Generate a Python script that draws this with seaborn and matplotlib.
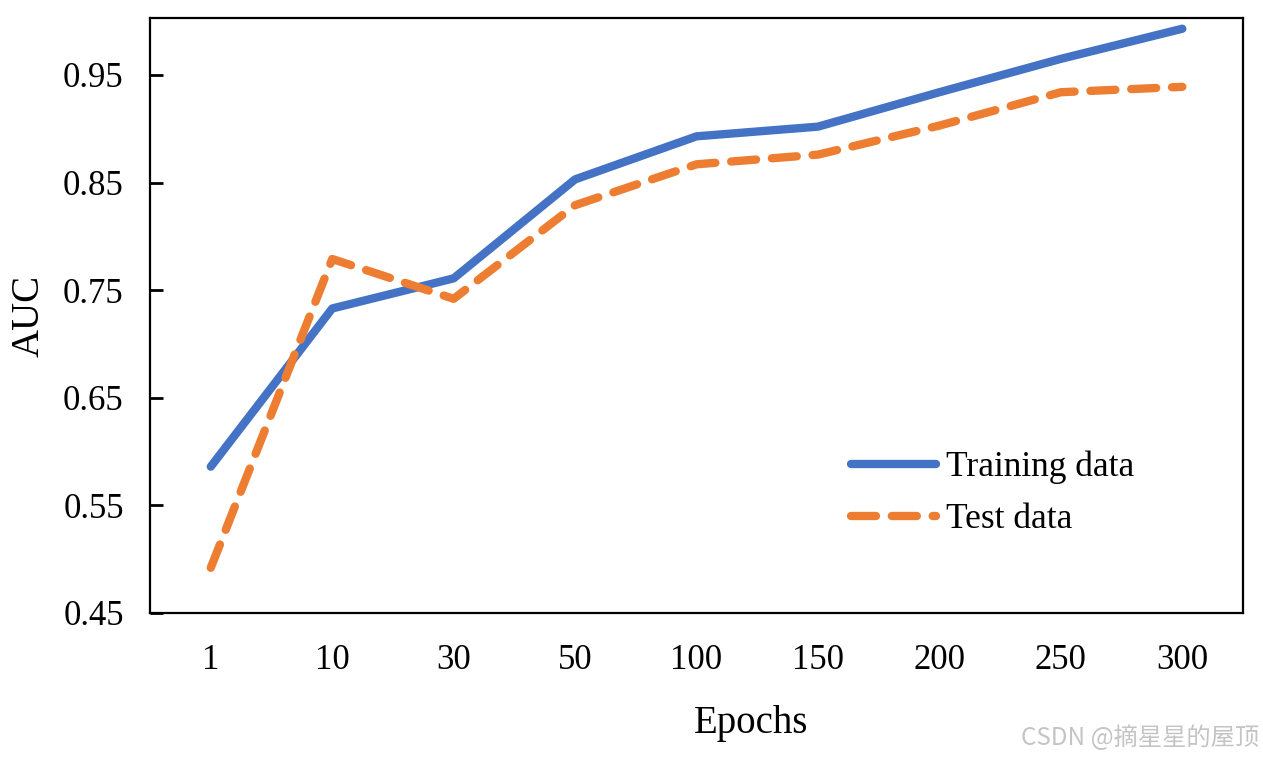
import numpy as np
import pandas as pd
import matplotlib
matplotlib.use("Agg")
import matplotlib.pyplot as plt
import seaborn as sns

epochs = ["1", "10", "30", "50", "100", "150", "200", "250", "300"]
train_auc = [0.586, 0.733, 0.761, 0.853, 0.893, 0.902, 0.934, 0.965, 0.993]
test_auc = [0.492, 0.779, 0.742, 0.829, 0.867, 0.876, 0.903, 0.934, 0.939]
y_ticks = [0.45, 0.55, 0.65, 0.75, 0.85, 0.95]

df = pd.DataFrame({
    "Epochs": epochs * 2,
    "AUC": train_auc + test_auc,
    "set": ["Training data"] * len(epochs) + ["Test data"] * len(epochs),
})
df["pos"] = list(range(len(epochs))) * 2

sns.set_style("ticks")
plt.rcParams["font.family"] = ["Liberation Serif", "DejaVu Serif"]
plt.rcParams["text.color"] = "black"
plt.rcParams["axes.labelcolor"] = "black"
plt.rcParams["xtick.color"] = "black"
plt.rcParams["ytick.color"] = "black"

fig = plt.figure(figsize=(12.63, 7.58), dpi=100)
ax = fig.add_axes([0.1188, 0.1913, 0.8654, 0.785])

lw = 6.0
sns.lineplot(
    data=df, x="pos", y="AUC", hue="set", style="set",
    palette={"Training data": "#4472C4", "Test data": "#ED7D31"},
    dashes={"Training data": "", "Test data": (3.0, 1.9)},
    linewidth=lw, ax=ax,
)
for ln in ax.get_lines():
    ln.set_solid_capstyle("round")
    ln.set_dash_capstyle("round")
    ln.set_solid_joinstyle("round")

ax.set_xlim(-0.5, 8.5)
ax.set_ylim(0.45, 1.003)
ax.set_xticks(range(len(epochs)))
ax.set_xticklabels(epochs)
ax.set_yticks(y_ticks)
ax.set_yticklabels([f"{v:.2f}" for v in y_ticks])
ax.tick_params(axis="x", length=0, pad=22, labelsize=25)
ax.tick_params(axis="y", direction="in", length=9, width=2, pad=19, labelsize=25)
for s in ax.spines.values():
    s.set_linewidth(1.6)
    s.set_color("black")

ax.set_xlabel("Epochs", fontsize=28, labelpad=22)
ax.xaxis.set_label_coords(0.55, -0.155)
ax.set_ylabel("AUC", fontsize=28, labelpad=11)

leg = ax.legend(
    loc="lower right", bbox_to_anchor=(0.93, 0.075), frameon=False,
    fontsize=25.5, handlelength=2.4, handletextpad=0.3, labelspacing=0.55,
)
for h in leg.get_lines():
    h.set_linewidth(lw)
    h.set_solid_capstyle("round")
    h.set_dash_capstyle("round")

fig.text(0.997, 0.027, "CSDN @摘星星的屋顶", ha="right", va="center",
         fontsize=17.5, color="#c4c4c4",
         family=["Noto Sans CJK SC", "DejaVu Sans"])

fig.savefig("out.png", dpi=100)
